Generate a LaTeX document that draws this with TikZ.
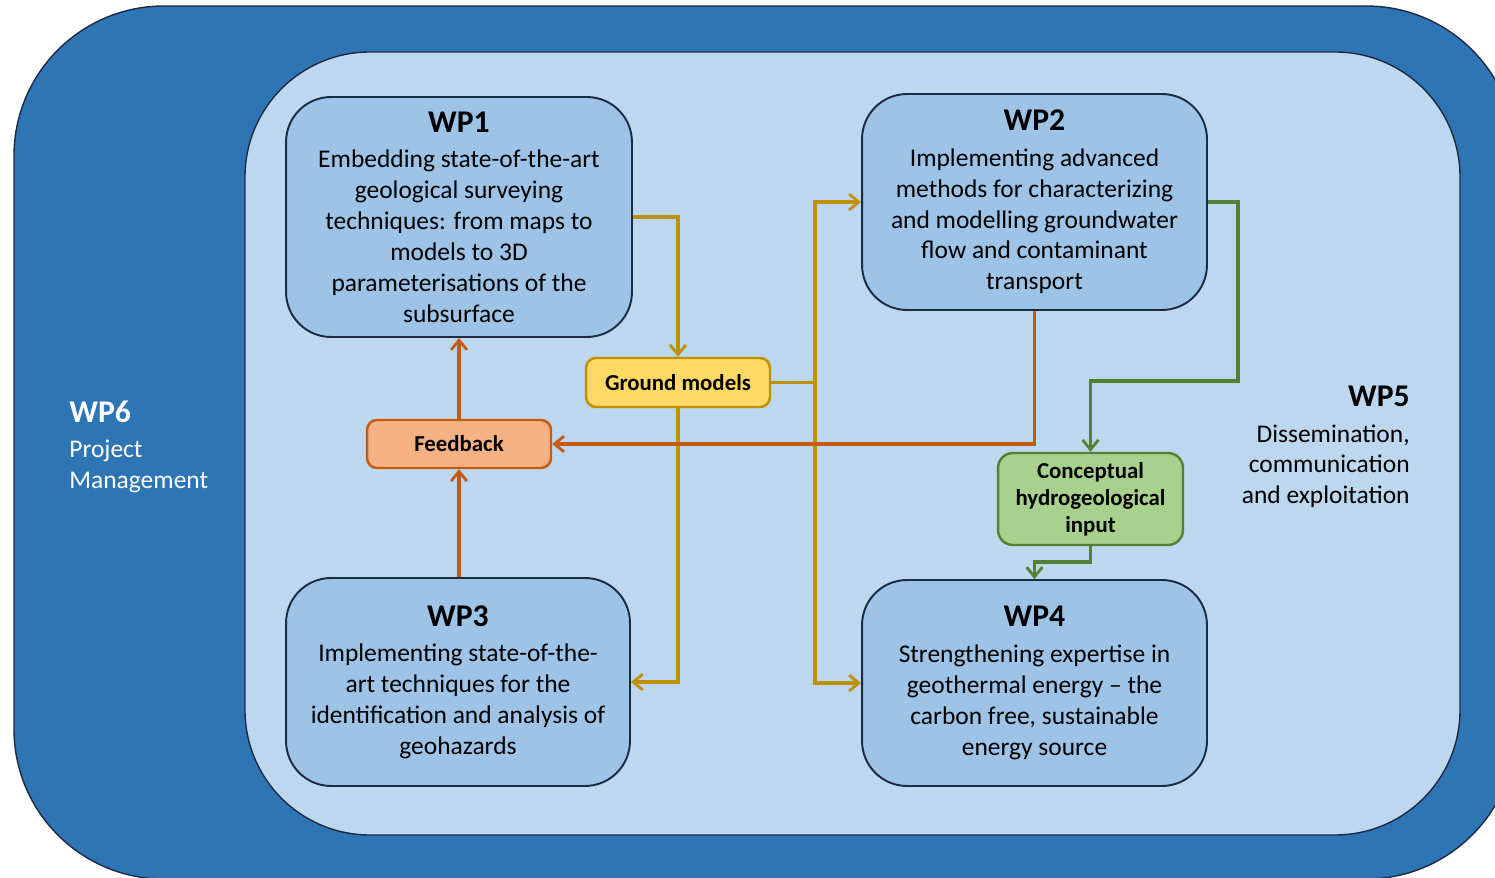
\documentclass[tikz,border=0pt]{standalone}
\usepackage{fontspec}
\setmainfont{Carlito}
\usetikzlibrary{arrows.meta}
\definecolor{darkblue}{HTML}{2E75B6}
\definecolor{lightblue}{HTML}{BDD7EE}
\definecolor{boxblue}{HTML}{9DC3E6}
\definecolor{edgecol}{HTML}{1C2A44}
\definecolor{goldfill}{HTML}{FFD966}
\definecolor{goldline}{HTML}{BF9000}
\definecolor{orangefill}{HTML}{F4B183}
\definecolor{orangeline}{HTML}{C55A11}
\definecolor{greenfill}{HTML}{A9D18E}
\definecolor{greenline}{HTML}{548235}
\tikzset{
  wpbox/.style={draw=edgecol, line width=1.1pt, fill=boxblue, rounded corners=0.9cm,
    align=center, inner sep=0pt, text=black,
    font=\fontsize{14.5}{17.6}\selectfont},
  smallbox/.style={line width=1.4pt, rounded corners=0.2cm, align=center, inner sep=0pt,
    font=\fontsize{13}{15.3}\selectfont\bfseries, text=black},
  conn/.style={line width=2pt, line join=miter},
  tip/.style={-{Straight Barb[length=5.5pt,width=9pt,line width=1.6pt]}}
}
\newcommand{\wpt}[1]{{\fontsize{18}{20}\selectfont\bfseries #1}}
\begin{document}
\begin{tikzpicture}[x=0.02cm,y=-0.02cm]
\useasboundingbox (0,0) rectangle (1495,878);
\clip (0,0) rectangle (1495,878);
% outer and inner frames
\draw[fill=darkblue, draw=edgecol, line width=0.8pt, rounded corners=3cm] (14,6) rectangle (1516,879);
\draw[fill=lightblue, draw=edgecol, line width=0.8pt, rounded corners=2.5cm] (245,52) rectangle (1460,835);

% WP boxes
\node[wpbox, minimum width=6.92cm, minimum height=4.8cm] (wp1) at (459,217)
  {\wpt{WP1}\\[2.6pt] Embedding state-of-the-art\\ geological surveying\\ techniques: from maps to\\ models to 3D\\ parameterisations of the\\ subsurface};
\node[wpbox, minimum width=6.9cm, minimum height=4.32cm] (wp2) at (1034.5,202)
  {\wpt{WP2}\\[2.6pt] Implementing advanced\\ methods for characterizing\\ and modelling groundwater\\ flow and contaminant\\ transport};
\node[wpbox, minimum width=6.88cm, minimum height=4.16cm] (wp3) at (458,682)
  {\wpt{WP3}\\[2.6pt] Implementing state-of-the-\\ art techniques for the\\ identification and analysis of\\ geohazards};
\node[wpbox, minimum width=6.9cm, minimum height=4.12cm] (wp4) at (1034.5,683)
  {\wpt{WP4}\\[2.6pt] Strengthening expertise in\\ geothermal energy -- the\\ carbon free, sustainable\\ energy source};

% small boxes
\node[smallbox, draw=goldline, fill=goldfill, minimum width=3.68cm, minimum height=0.98cm] (gm) at (678,382.5) {Ground models};
\node[smallbox, draw=orangeline, fill=orangefill, minimum width=3.68cm, minimum height=0.96cm] (fb) at (459,444) {Feedback};
\node[smallbox, draw=greenline, fill=greenfill, minimum width=3.7cm, minimum height=1.84cm, rounded corners=0.3cm] (ci) at (1090.5,499) {Conceptual\\ hydrogeological\\ input};

% side labels
\node[anchor=west, align=left, text=white, inner sep=0pt, font=\fontsize{14.5}{17.6}\selectfont] (wp6) at (69,447)
  {\wpt{WP6}\\[2.6pt] Project\\ Management};
\node[anchor=east, align=right, text=black, inner sep=0pt, font=\fontsize{14.5}{17.6}\selectfont] (wp5) at (1410,447)
  {\wpt{WP5}\\[2.6pt] Dissemination,\\ communication\\ and exploitation};

% connectors: gold
\coordinate (j1) at (815,382.5);
\draw[conn, goldline, tip] (wp1.east) -| (gm.north);
\draw[conn, goldline] (gm.east) -- (j1);
\draw[conn, goldline, tip] (j1) |- (wp2.west);
\draw[conn, goldline, tip] (j1) |- (wp4.west);
\draw[conn, goldline, tip] (gm.south) |- (wp3.east);

% connectors: orange
\draw[conn, orangeline, tip] (wp2.south) |- (fb.east);
\draw[conn, orangeline, tip] (fb.north) -- (wp1.south);
\draw[conn, orangeline, tip] (wp3.north -| fb.south) -- (fb.south);

% connectors: green
\coordinate (g1) at (1238,381);
\coordinate (g2) at (1090.5,562);
\draw[conn, greenline, tip] (wp2.east) -| (g1) -| (ci.north);
\draw[conn, greenline, tip] (ci.south) -- (g2) -| (wp4.north);
\end{tikzpicture}
\end{document}
